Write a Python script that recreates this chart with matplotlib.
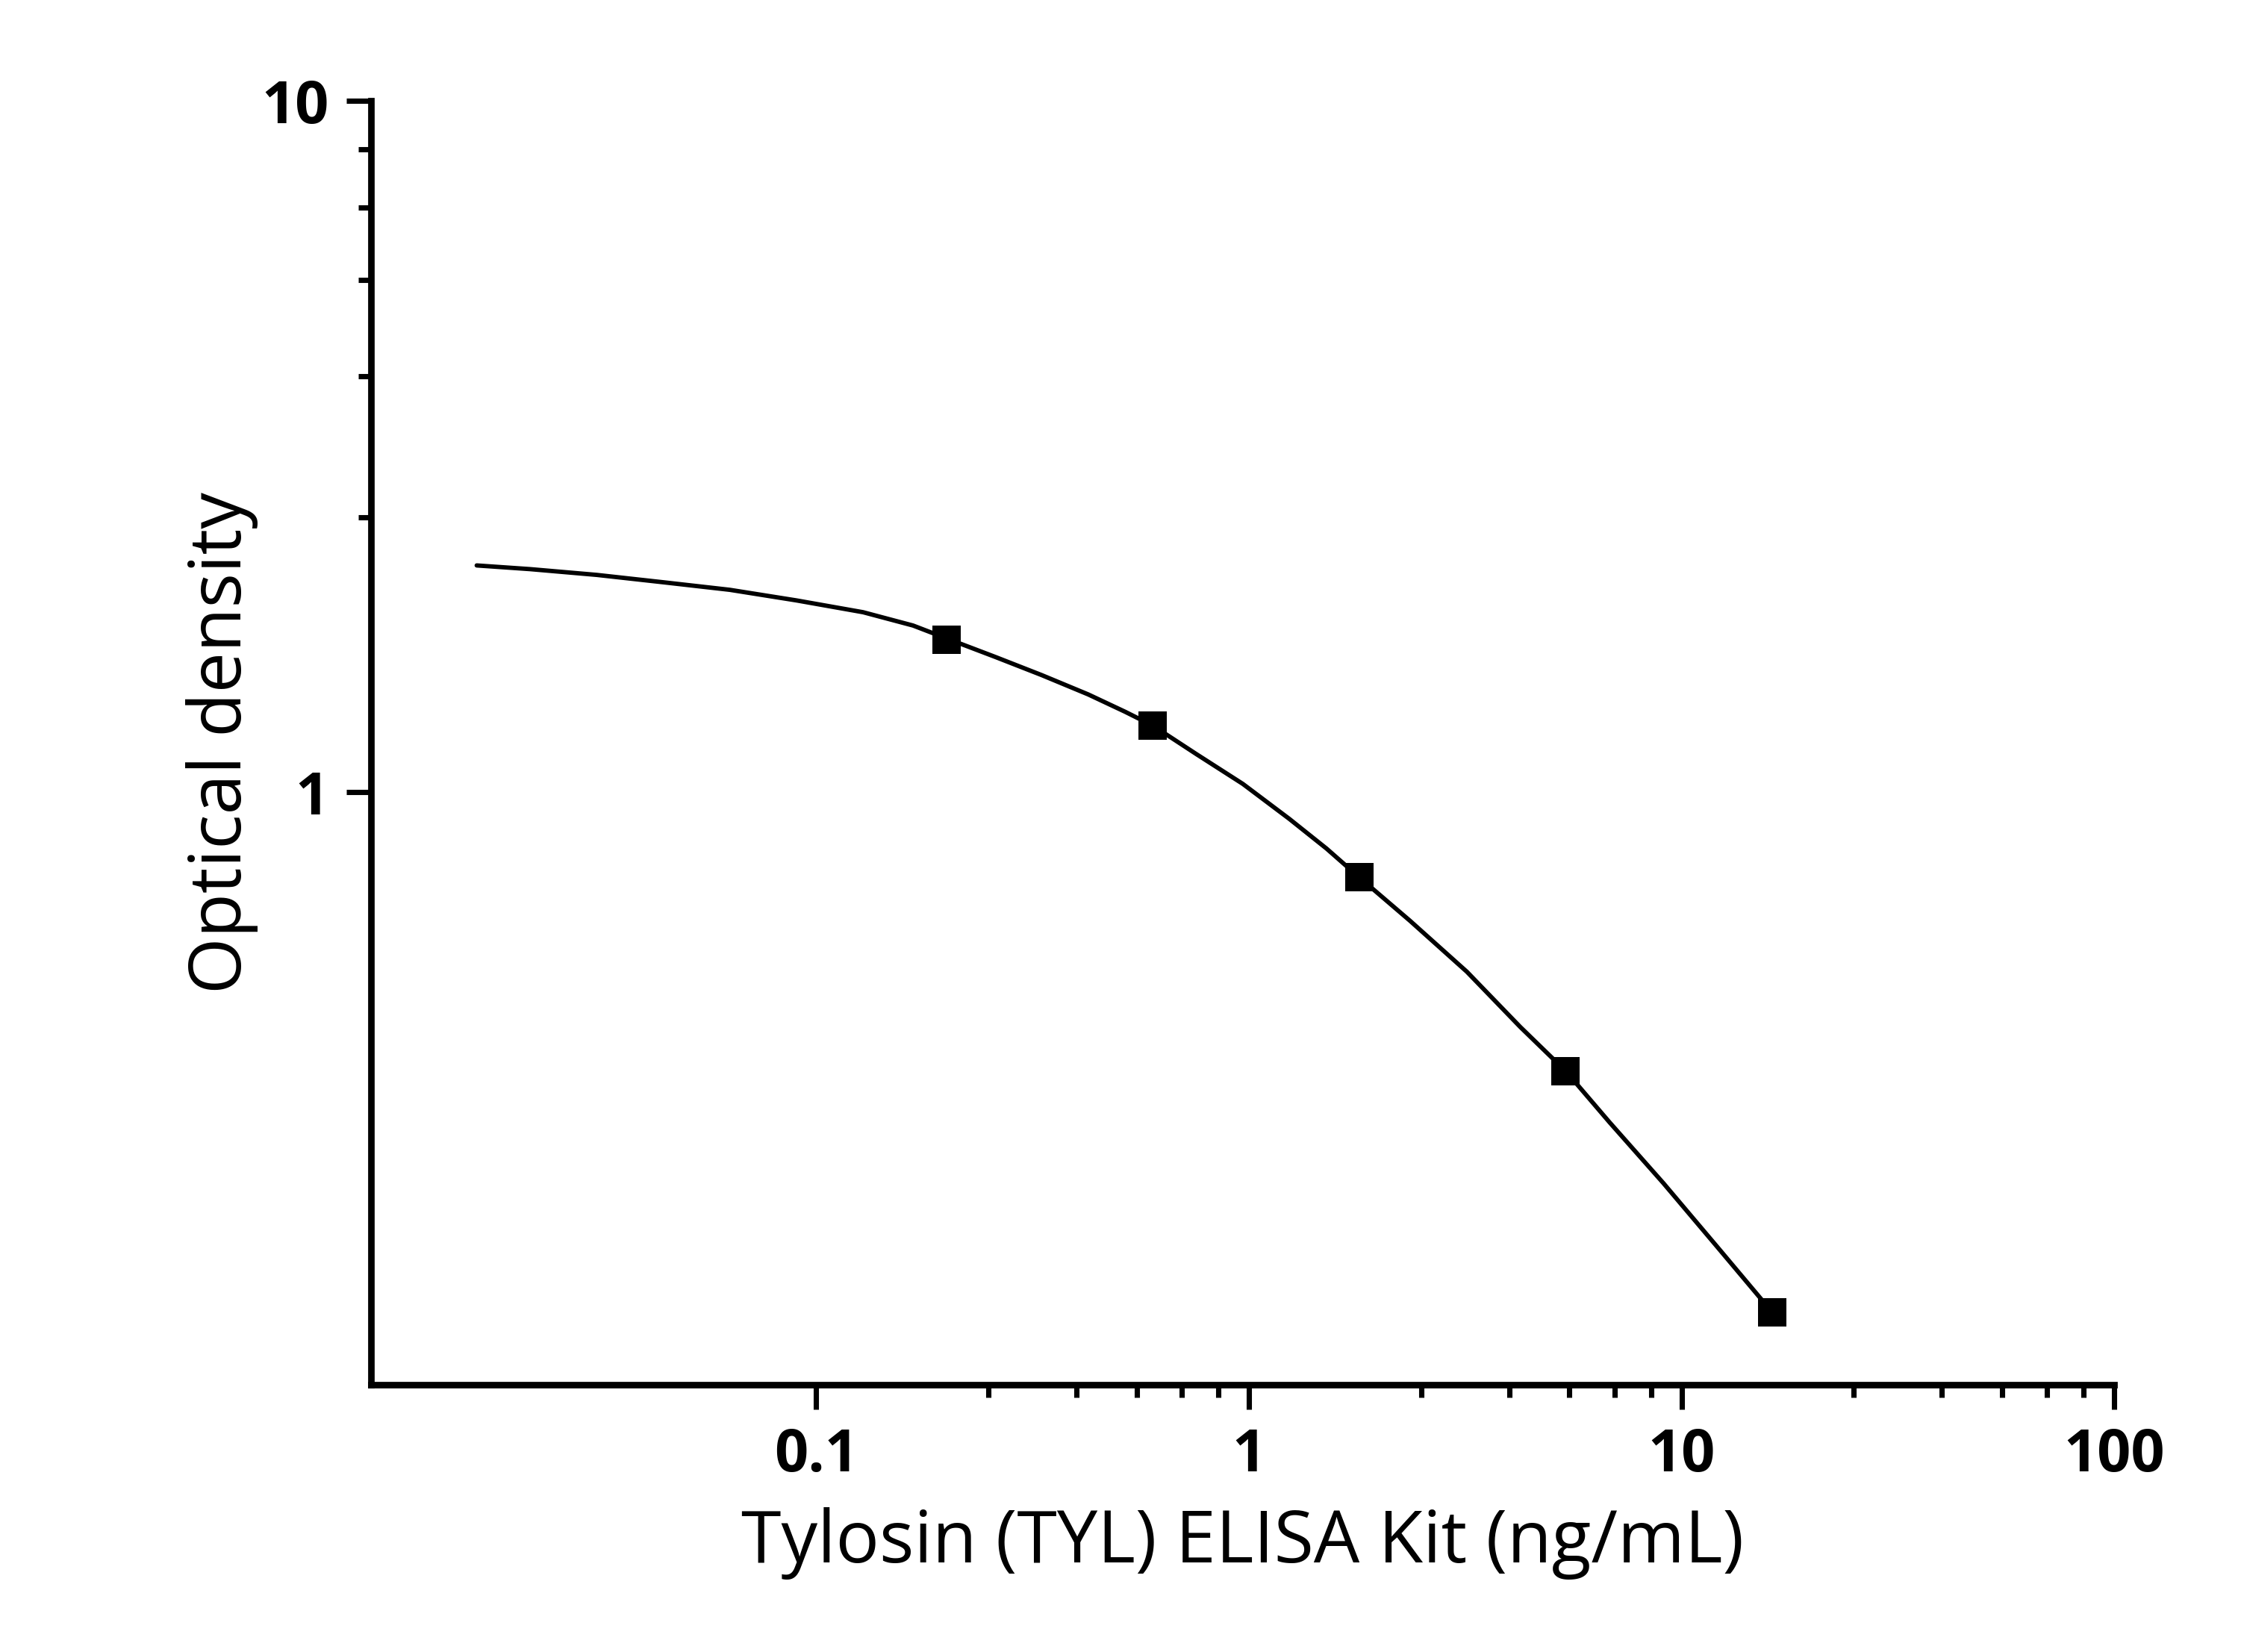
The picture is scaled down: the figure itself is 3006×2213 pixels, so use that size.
import numpy as np
import matplotlib
matplotlib.use("Agg")
import matplotlib.pyplot as plt
from matplotlib.ticker import FixedLocator, NullFormatter

# measured standards (3-fold dilutions)
conc = [0.2, 0.6, 1.8, 5.4, 16.2]
od = [1.662, 1.248, 0.753, 0.395, 0.177]

# fitted curve
curve_x = [0.01641, 0.0218, 0.03108, 0.04429, 0.06313, 0.0900, 0.1283, 0.1674, 0.2,
           0.2593, 0.3319, 0.4251, 0.5177, 0.6, 0.7565, 0.9683, 1.240, 1.511, 1.8,
           2.357, 3.19, 4.24, 5.4, 6.82, 9.08, 12.05, 16.2]
curve_y = [2.128, 2.102, 2.062, 2.012, 1.962, 1.894, 1.821, 1.742, 1.669,
           1.569, 1.477, 1.385, 1.307, 1.248, 1.135, 1.028, 0.915, 0.829, 0.753,
           0.6517, 0.550, 0.4575, 0.395, 0.333, 0.272, 0.2206, 0.177]

x_major = [0.1, 1, 10, 100]
x_labels = ["0.1", "1", "10", "100"]
y_major = [1, 10]
y_labels = ["1", "10"]
minor_steps = [2.5, 4, 5.5, 7, 8.5]

plt.rcParams['font.family'] = ['Open Sans', 'DejaVu Sans']

fig = plt.figure(figsize=(3006/300, 2213/300), dpi=300)
ax = fig.add_axes([0.16534, 0.16177, 0.7768, 0.77723])

ax.plot(curve_x, curve_y, color='black', lw=1.4, solid_capstyle='round', solid_joinstyle='round')
ax.plot(conc, od, ls='none', marker='s', ms=8.9, mfc='black', mec='black', mew=0)

ax.set_xscale('log')
ax.set_yscale('log')
ax.set_xlim(0.00935, 100)
ax.set_ylim(0.139, 10)

ax.xaxis.set_major_locator(FixedLocator(x_major))
ax.set_xticklabels(x_labels)
ax.xaxis.set_minor_locator(FixedLocator([d*m for d in [0.1, 1, 10] for m in minor_steps]))
ax.yaxis.set_major_locator(FixedLocator(y_major))
ax.set_yticklabels(y_labels)
ax.yaxis.set_minor_locator(FixedLocator([m for m in minor_steps]))
ax.xaxis.set_minor_formatter(NullFormatter())
ax.yaxis.set_minor_formatter(NullFormatter())

for s in ['top', 'right']:
    ax.spines[s].set_visible(False)
for s in ['left', 'bottom']:
    ax.spines[s].set_linewidth(2.1)
    ax.spines[s].set_capstyle('projecting')

ax.tick_params(which='major', direction='out', length=8, width=1.7, pad=5.5)
ax.tick_params(which='minor', direction='out', length=4, width=1.7)
for lab in ax.get_xticklabels() + ax.get_yticklabels():
    lab.set_fontweight('bold')
    lab.set_fontsize(19)

ax.set_xlabel('Tylosin (TYL) ELISA Kit (ng/mL)', fontsize=23.3, labelpad=7)
ax.set_ylabel('Optical density', fontsize=23.3, labelpad=1)

fig.savefig('out.png', dpi=300)
